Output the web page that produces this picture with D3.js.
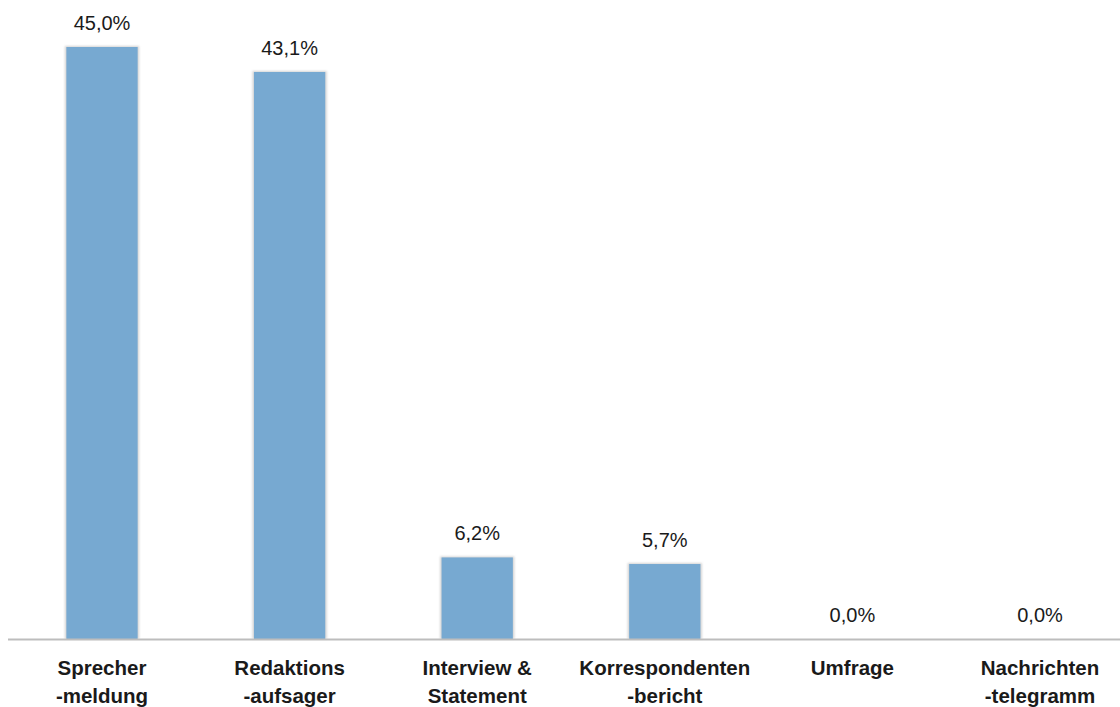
<!DOCTYPE html>
<html>
<head>
<meta charset="utf-8">
<script src="https://cdn.jsdelivr.net/npm/d3@7"></script>
<style>
  html, body { margin: 0; padding: 0; background: #fff; }
  svg { display: block; }
</style>
</head>
<body>
<svg id="chart" width="1120" height="707"></svg>
<script>
// Share of news formats (percent)
const categories = [
  ["Sprecher", "-meldung"],
  ["Redaktions", "-aufsager"],
  ["Interview &", "Statement"],
  ["Korrespondenten", "-bericht"],
  ["Umfrage"],
  ["Nachrichten", "-telegramm"]
];
const values = [45.0, 43.1, 6.2, 5.7, 0.0, 0.0];
const valueLabels = ["45,0%", "43,1%", "6,2%", "5,7%", "0,0%", "0,0%"];

const width = 1120, height = 707;
const baseY = 639;
const svg = d3.select("#chart");

const keys = categories.map((c, i) => "c" + i);
const x = d3.scaleBand()
  .domain(keys)
  .range([8.2, 8.2 + 6 * 187.6])
  .paddingInner(0.62)
  .paddingOuter(0.31);

const y = d3.scaleLinear()
  .domain([0, 45])
  .range([baseY, 47]);

// soft edge around the bars
const defs = svg.append("defs");
const f = defs.append("filter").attr("id", "soft")
  .attr("x", "-10%").attr("y", "-10%").attr("width", "120%").attr("height", "120%");
f.append("feGaussianBlur").attr("stdDeviation", 1.2);

const barW = x.bandwidth();
const bars = svg.append("g");
bars.selectAll("rect.shadow")
  .data(values)
  .join("rect")
  .attr("class", "shadow")
  .attr("x", (d, i) => x(keys[i]) - 1.5)
  .attr("y", d => y(d) - 1)
  .attr("width", barW + 3)
  .attr("height", d => Math.max(0, baseY - y(d) + 1))
  .attr("fill", "#d4d4d4")
  .attr("filter", "url(#soft)")
  .attr("opacity", d => d > 0 ? 1 : 0);

bars.selectAll("rect.bar")
  .data(values)
  .join("rect")
  .attr("class", "bar")
  .attr("x", (d, i) => x(keys[i]))
  .attr("y", d => y(d))
  .attr("width", barW)
  .attr("height", d => baseY - y(d))
  .attr("fill", "#77a9d1");

// baseline axis
const axis = d3.axisBottom(x).tickSize(0).tickFormat("");
const axG = svg.append("g").attr("transform", `translate(0,${baseY + 0.5})`).call(axis);
axG.select(".domain").remove();
axG.append("line")
  .attr("x1", 8).attr("x2", width)
  .attr("y1", 0).attr("y2", 0)
  .attr("stroke", "#bdbdbd").attr("stroke-width", 2);

// value labels
svg.append("g")
  .selectAll("text")
  .data(values)
  .join("text")
  .attr("x", (d, i) => x(keys[i]) + barW / 2)
  .attr("y", d => y(d) - 17)
  .attr("text-anchor", "middle")
  .attr("font-family", "Liberation Sans, Arial, sans-serif")
  .attr("font-size", 20)
  .attr("fill", "#1a1a1a")
  .text((d, i) => valueLabels[i]);

// category labels
const catG = svg.append("g");
categories.forEach((lines, i) => {
  const t = catG.append("text")
    .attr("x", x(keys[i]) + barW / 2)
    .attr("y", 675)
    .attr("text-anchor", "middle")
    .attr("font-family", "Liberation Sans, Arial, sans-serif")
    .attr("font-weight", "bold")
    .attr("font-size", 20.5)
    .attr("fill", "#1a1a1a");
  lines.forEach((l, j) => {
    t.append("tspan")
      .attr("x", x(keys[i]) + barW / 2)
      .attr("y", 675 + j * 28)
      .text(l);
  });
});
</script>
</body>
</html>
